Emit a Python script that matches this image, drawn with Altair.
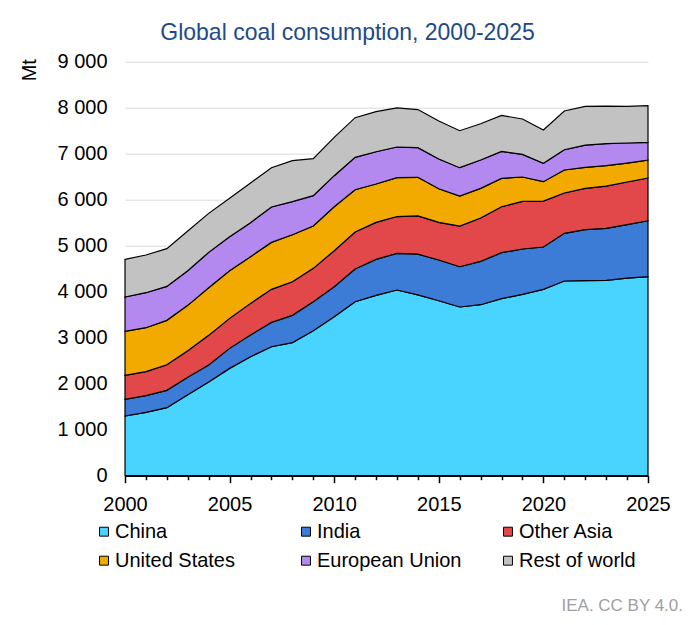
import altair as alt
import pandas as pd

years = list(range(2000, 2026))

regions = ["China", "India", "Other Asia", "United States", "European Union", "Rest of world"]
colors = ["#48d4ff", "#3c7bd6", "#e2484a", "#f2a900", "#b388ef", "#c2c2c2"]

china = [1297, 1377, 1478, 1761, 2036, 2333, 2587, 2804, 2891, 3152, 3457, 3783, 3920,
         4036, 3930, 3804, 3667, 3717, 3848, 3942, 4051, 4232, 4239, 4246, 4297, 4326]
india = [362, 362, 377, 377, 370, 435, 471, 529, 595, 631, 652, 710, 783,
         797, 885, 884, 876, 942, 1000, 986, 920, 1036, 1109, 1131, 1160, 1217]
other_asia = [522, 522, 558, 579, 645, 652, 688, 718, 731, 724, 782, 804, 804,
              801, 833, 819, 885, 942, 1000, 1036, 1000, 877, 898, 920, 927, 928]
united_states = [957, 956, 964, 986, 1036, 1037, 1015, 1021, 1022, 921, 957, 920, 834,
                 844, 838, 732, 652, 645, 616, 529, 420, 500, 457, 442, 413, 391]
european_union = [746, 761, 739, 754, 768, 739, 739, 769, 718, 659, 674, 703, 702,
                  667, 644, 645, 616, 616, 587, 493, 399, 442, 485, 478, 435, 384]
rest_of_world = [819, 819, 819, 862, 848, 833, 862, 855, 891, 804, 833, 863, 870,
                 851, 830, 826, 804, 790, 782, 768, 724, 841, 841, 819, 797, 797]

series = [china, india, other_asia, united_states, european_union, rest_of_world]

rows = []
for i, (name, vals) in enumerate(zip(regions, series)):
    for y, v in zip(years, vals):
        rows.append({"year": y, "region": name, "value": v, "ord": i})
df = pd.DataFrame(rows)

FONT = "Liberation Sans"

area = alt.Chart(df).mark_area(stroke="black", strokeWidth=1.2, interpolate="linear").encode(
    x=alt.X("year:Q",
            scale=alt.Scale(domain=[2000, 2025], nice=False, zero=False),
            axis=alt.Axis(title=None, values=years, format="d",
                          labelExpr="datum.value % 5 === 0 ? datum.label : ''",
                          labelOverlap=False, labelFlush=False, grid=False,
                          domainColor="black", domainWidth=1.5,
                          tickColor="black", tickWidth=1.5,
                          tickSize={"condition": {"test": "datum.value % 5 === 0", "value": 7}, "value": 4},
                          labelPadding=12, labelFontSize=20, labelFont=FONT, labelColor="black")),
    y=alt.Y("value:Q", stack="zero",
            scale=alt.Scale(domain=[0, 9000], nice=False),
            axis=alt.Axis(title="Mt", values=list(range(0, 9001, 1000)),
                          labelExpr="replace(format(datum.value, ','), ',', ' ')",
                          ticks=False, tickSize=0, domain=False, labelPadding=18,
                          labelFontSize=20, labelFont=FONT, labelColor="black",
                          gridColor="#dadada", gridWidth=1,
                          titleAngle=-90, titleX=-96, titleY=8, titleAlign="center",
                          titleBaseline="middle", titleFont=FONT, titleFontSize=20,
                          titleFontWeight="normal", titleColor="black")),
    color=alt.Color("region:N",
                    scale=alt.Scale(domain=regions, range=colors),
                    legend=alt.Legend(title=None, orient="none", legendX=-31, legendY=460,
                                      direction="horizontal", columns=3, gridAlign="all",
                                      columnPadding=36, rowPadding=9, padding=0,
                                      symbolType="square", symbolSize=80,
                                      symbolStrokeColor="black", symbolStrokeWidth=1,
                                      symbolOpacity=1,
                                      labelFontSize=20, labelFont=FONT, labelColor="black",
                                      labelOffset=1, labelLimit=300)),
    order=alt.Order("ord:Q", sort="ascending"),
)

footer = alt.Chart(pd.DataFrame({"t": ["IEA. CC BY 4.0."]})).mark_text(
    align="right", baseline="alphabetic", font=FONT, fontSize=17, color="#a0a0a0"
).encode(text="t:N", x=alt.value(558), y=alt.value(549))

chart = alt.layer(area, footer).properties(
    width=523, height=414,
    title=alt.TitleParams("Global coal consumption, 2000-2025", font=FONT, fontSize=23,
                          fontWeight="normal", color="#1d4a8a", anchor="middle",
                          frame="group", dx=-39, dy=29, offset=18, baseline="alphabetic"),
    autosize=alt.AutoSizeParams(type="none"),
    padding={"left": 117, "top": 53.7, "right": 44, "bottom": 141},
).configure_view(stroke=None)

chart.save("out.html", embed_options={"renderer": "svg", "actions": False})
